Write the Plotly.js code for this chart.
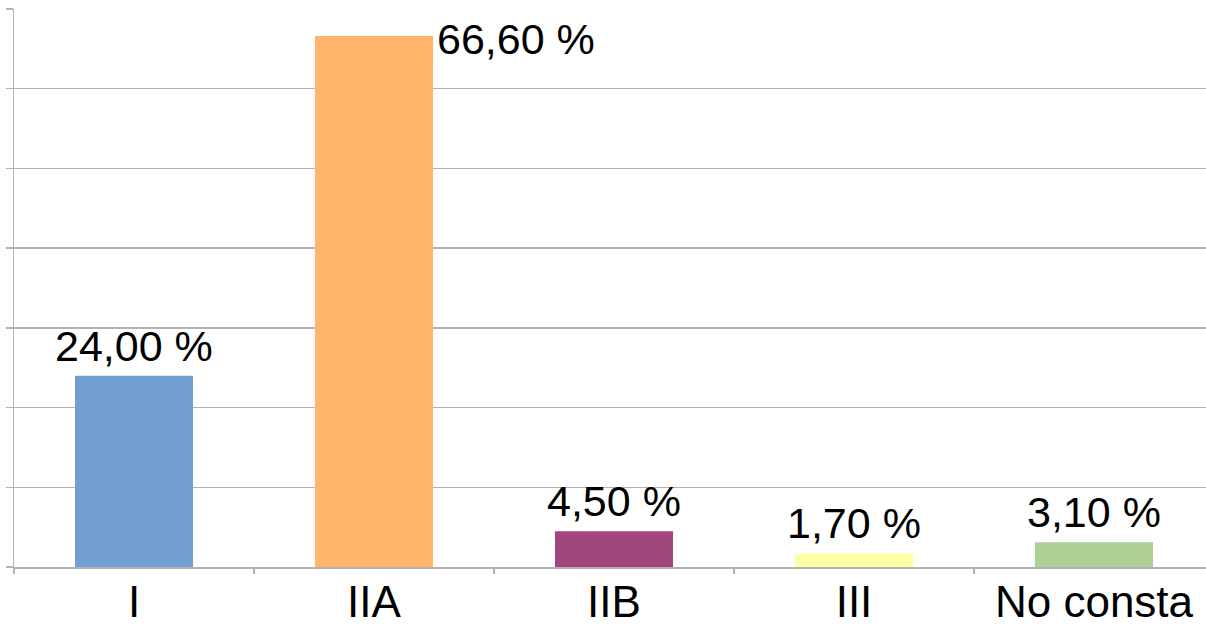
<!DOCTYPE html>
<html>
<head>
<meta charset="utf-8">
<script src="https://cdn.plot.ly/plotly-3.0.1.min.js"></script>
<style>
html,body{margin:0;padding:0;overflow:hidden;background:#fff;}
#chart{width:1220px;height:627px;}
</style>
</head>
<body>
<div id="chart"></div>
<script>
const categories = ["I", "IIA", "IIB", "III", "No consta"];
const values = [24.0, 66.6, 4.5, 1.7, 3.1];
const labels = ["24,00 %", "66,60 %", "4,50 %", "1,70 %", "3,10 %"];
const colors = ["#729fcf", "#ffb66c", "#a1467e", "#ffffa6", "#afd095"];

const trace = {
  type: "bar",
  x: categories,
  y: values,
  marker: {color: colors, line: {width: 0}},
  hoverinfo: "none"
};

const annotations = categories.map((c, i) => {
  if (c === "IIA") {
    return {x: c, y: values[i], xref: "x", yref: "y", text: labels[i], showarrow: false,
      xanchor: "left", yanchor: "middle", xshift: 61, yshift: -3,
      font: {family: "Liberation Sans, Arial, sans-serif", size: 43, color: "#000"}};
  }
  return {x: c, y: values[i], xref: "x", yref: "y", text: labels[i], showarrow: false,
    xanchor: "center", yanchor: "bottom", yshift: 4,
    font: {family: "Liberation Sans, Arial, sans-serif", size: 43, color: "#000"}};
});

const layout = {
  width: 1220,
  height: 627,
  margin: {l: 14, r: 6, t: 9, b: 60},
  paper_bgcolor: "#ffffff",
  plot_bgcolor: "#ffffff",
  showlegend: false,
  bargap: 0.508,
  font: {family: "Liberation Sans, Arial, sans-serif", color: "#000"},
  xaxis: {
    type: "category",
    showline: true, linecolor: "#b3b3b3", linewidth: 1.5,
    ticks: "outside", tickson: "boundaries", ticklen: 5, tickcolor: "#b3b3b3", tickwidth: 1.5,
    ticklabelstandoff: -4,
    tickfont: {family: "Liberation Sans, Arial, sans-serif", size: 44, color: "#000"},
    showgrid: false, zeroline: false, fixedrange: true
  },
  yaxis: {
    range: [0, 70], dtick: 10, tick0: 0,
    showline: true, linecolor: "#b3b3b3", linewidth: 1.5,
    ticks: "outside", ticklen: 7, tickcolor: "#b3b3b3", tickwidth: 1.5,
    showticklabels: false,
    showgrid: true, gridcolor: "#b3b3b3", gridwidth: 1.5,
    zeroline: false, fixedrange: true
  },
  annotations: annotations
};

Plotly.newPlot("chart", [trace], layout, {displayModeBar: false, staticPlot: true});
</script>
</body>
</html>
